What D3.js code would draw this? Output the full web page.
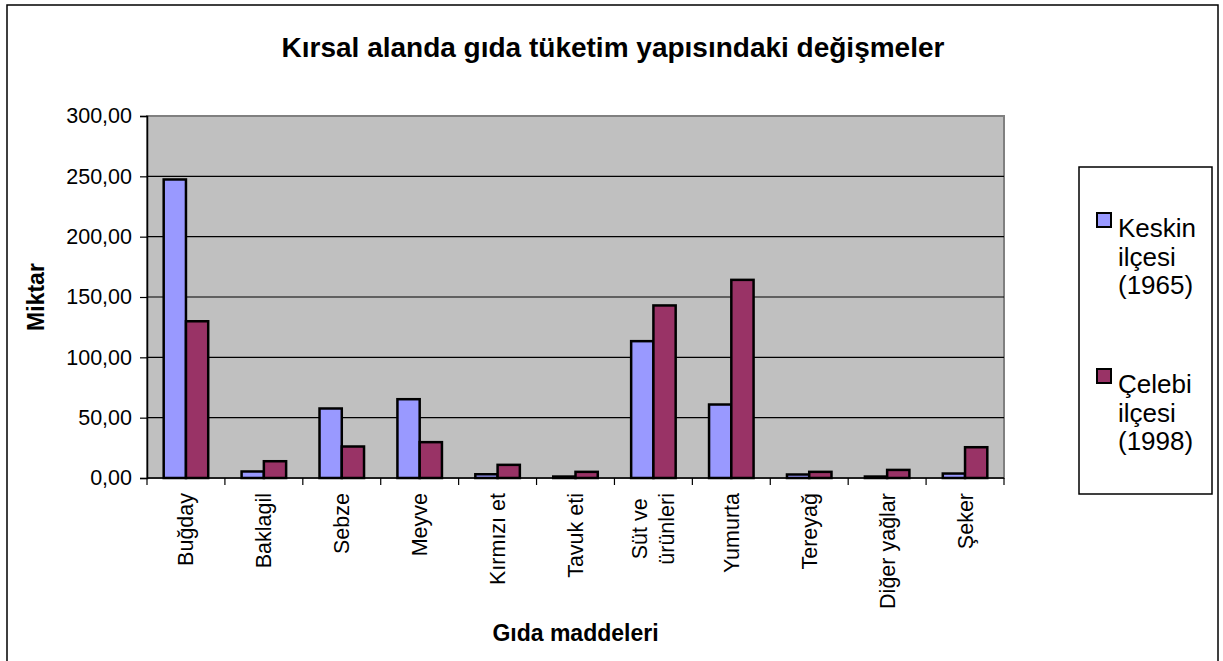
<!DOCTYPE html>
<html>
<head>
<meta charset="utf-8">
<script src="https://cdn.jsdelivr.net/npm/d3@7"></script>
<style>
  body { margin: 0; background: #fff; }
  svg { font-family: "Liberation Sans", Arial, sans-serif; }
</style>
</head>
<body>
<div id="chart"></div>
<script>
// data
var categories = ["Buğday", "Baklagil", "Sebze", "Meyve", "Kırmızı et", "Tavuk eti",
  "Süt ve\nürünleri", "Yumurta", "Tereyağ", "Diğer yağlar", "Şeker"];
var keskin1965 = [247.4, 5.4, 57.6, 65.3, 3.1, 1.2, 113.4, 60.9, 2.9, 1.2, 3.7];
var celebi1998 = [129.9, 13.9, 26.1, 29.7, 10.9, 5.1, 143.0, 164.2, 5.1, 6.7, 25.5];
var seriesNames = [["Keskin", "ilçesi", "(1965)"], ["Çelebi", "ilçesi", "(1998)"]];
var yTicks = [0, 50, 100, 150, 200, 250, 300];

var svgWidth = 1223;
var svgHeight = 661;
var plot = { left: 147, right: 1004, top: 116, bottom: 478 };
var colors = ["#9999FF", "#993366"];

var svg = d3.select("#chart").append("svg")
  .attr("width", svgWidth)
  .attr("height", svgHeight);

// outer chart border
svg.append("rect")
  .attr("x", 7).attr("y", 5)
  .attr("width", 1211).attr("height", 670)
  .attr("fill", "#fff")
  .attr("stroke", "#000")
  .attr("stroke-width", 1.5);

var xScale = d3.scaleBand()
  .domain(categories)
  .range([plot.left, plot.right])
  .padding(0);

var yScale = d3.scaleLinear()
  .domain([0, 300])
  .range([plot.bottom, plot.top]);

// plot area
svg.append("rect")
  .attr("x", plot.left).attr("y", plot.top)
  .attr("width", plot.right - plot.left)
  .attr("height", plot.bottom - plot.top)
  .attr("fill", "#C0C0C0")
  .attr("stroke", "#808080")
  .attr("stroke-width", 2);

// gridlines
svg.append("g")
  .selectAll("line")
  .data(yTicks.filter(d => d > 0 && d < 300))
  .enter()
  .append("line")
  .attr("x1", plot.left).attr("x2", plot.right)
  .attr("y1", d => yScale(d)).attr("y2", d => yScale(d))
  .attr("stroke", "#000")
  .attr("stroke-width", 1.2);

// bars
var bw = xScale.bandwidth() / 3.5;
var seriesData = [keskin1965, celebi1998];
seriesData.forEach(function(vals, s) {
  svg.append("g")
    .selectAll("rect")
    .data(vals)
    .enter()
    .append("rect")
    .attr("x", (d, i) => xScale(categories[i]) + bw * 0.75 + s * bw)
    .attr("y", d => yScale(d))
    .attr("width", bw)
    .attr("height", d => yScale(0) - yScale(d))
    .attr("fill", colors[s])
    .attr("stroke", "#000")
    .attr("stroke-width", 2.5);
});

// y axis
var yAxis = d3.axisLeft(yScale)
  .tickValues(yTicks)
  .tickSize(7)
  .tickPadding(8)
  .tickFormat(d => d3.format(".2f")(d).replace(".", ","));

var yg = svg.append("g")
  .attr("transform", `translate(${plot.left}, 0)`)
  .call(yAxis);
yg.select(".domain").attr("stroke", "#000").attr("stroke-width", 1.5);
yg.selectAll(".tick line").attr("stroke", "#000").attr("stroke-width", 1.2);
yg.selectAll("text")
  .attr("font-size", "21.5px")
  .attr("fill", "#000")
  .attr("font-family", "Liberation Sans, Arial, sans-serif");

// x axis line + ticks at category boundaries
svg.append("line")
  .attr("x1", plot.left).attr("x2", plot.right)
  .attr("y1", plot.bottom).attr("y2", plot.bottom)
  .attr("stroke", "#000").attr("stroke-width", 1.5);

var bounds = categories.map(c => xScale(c)).concat([plot.right]);
svg.append("g")
  .selectAll("line")
  .data(bounds)
  .enter()
  .append("line")
  .attr("x1", d => d).attr("x2", d => d)
  .attr("y1", plot.bottom).attr("y2", plot.bottom + 7)
  .attr("stroke", "#000").attr("stroke-width", 1.2);

// x labels, rotated
var xl = svg.append("g");
categories.forEach(function(c) {
  var lines = c.split("\n");
  var cx = xScale(c) + xScale.bandwidth() / 2;
  var g = xl.append("g")
    .attr("transform", `translate(${cx}, 493) rotate(-90)`);
  var texts = lines.map(function(l, i) {
    return g.append("text")
      .attr("font-size", "21.5px")
      .attr("fill", "#000")
      .attr("text-anchor", "middle")
      .attr("y", (i - (lines.length - 1) / 2) * 27 + 7.5)
      .text(l);
  });
  var maxLen = d3.max(texts, t => t.node().getComputedTextLength());
  texts.forEach(t => t.attr("x", -maxLen / 2));
});

// titles
svg.append("text")
  .attr("x", 613).attr("y", 57)
  .attr("text-anchor", "middle")
  .attr("font-size", "28px")
  .attr("font-weight", "bold")
  .text("Kırsal alanda gıda tüketim yapısındaki değişmeler");

svg.append("text")
  .attr("x", (plot.left + plot.right) / 2).attr("y", 641)
  .attr("text-anchor", "middle")
  .attr("font-size", "23px")
  .attr("font-weight", "bold")
  .text("Gıda maddeleri");

svg.append("text")
  .attr("transform", `translate(44, ${(plot.top + plot.bottom) / 2}) rotate(-90)`)
  .attr("text-anchor", "middle")
  .attr("font-size", "23px")
  .attr("font-weight", "bold")
  .text("Miktar");

// legend
svg.append("rect")
  .attr("x", 1079).attr("y", 167)
  .attr("width", 133).attr("height", 327)
  .attr("fill", "#fff")
  .attr("stroke", "#000")
  .attr("stroke-width", 1.5);

var legendTop = [237, 393];
seriesNames.forEach(function(lines, s) {
  svg.append("rect")
    .attr("x", 1097).attr("y", legendTop[s] - 24)
    .attr("width", 14).attr("height", 14)
    .attr("fill", colors[s])
    .attr("stroke", "#000")
    .attr("stroke-width", 2);
  lines.forEach(function(l, i) {
    svg.append("text")
      .attr("x", 1118)
      .attr("y", legendTop[s] + i * 28.5)
      .attr("font-size", "26px")
      .attr("fill", "#000")
      .text(l);
  });
});
</script>
</body>
</html>
